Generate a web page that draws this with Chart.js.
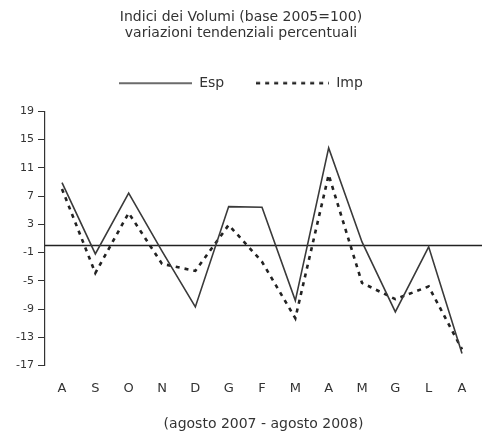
<!DOCTYPE html>
<html>
<head>
<meta charset="utf-8">
<script src="https://cdn.jsdelivr.net/npm/chart.js@4/dist/chart.umd.min.js"></script>
<style>
  html, body { margin: 0; padding: 0; background: #fff; }
  #wrap { width: 482px; height: 434px; }
</style>
</head>
<body>
<div id="wrap"><canvas id="c" width="482" height="434"></canvas></div>
<script>
// ---- data ----
const months = ['A', 'S', 'O', 'N', 'D', 'G', 'F', 'M', 'A', 'M', 'G', 'L', 'A'];
const espValues = [8.9, -1.2, 7.4, -0.8, -8.7, 5.5, 5.4, -7.8, 13.8, 0.5, -9.4, -0.2, -15.3];
const impValues = [8.0, -3.9, 4.6, -2.6, -3.6, 2.9, -2.3, -10.3, 10.0, -5.3, -7.6, -5.8, -14.7];
const yTickMin = -17;
const yTickMax = 19;
const yTickStep = 4;
const titleLines = ['Indici dei Volumi (base 2005=100)', 'variazioni tendenziali percentuali'];
const seriesNames = ['Esp', 'Imp'];
const xAxisTitle = '(agosto 2007 - agosto 2008)';

const FONT = "'DejaVu Sans', 'Liberation Sans', sans-serif";
const TEXT = '#333';
const LEGEND_EXTRA = 11;

const ESP_COLOR = '#3a3a3a';
const IMP_COLOR = '#222';
const ESP_WIDTH = 1.6;
const IMP_WIDTH = 2.6;
const IMP_DASH = [4, 5];

const toPoints = arr => arr.map((v, i) => ({ x: i, y: v }));

// small canvases used as legend symbols (a solid and a dashed line)
function legendLine(color, width, dash) {
  const c = document.createElement('canvas');
  c.width = 73; c.height = 4;
  const g = c.getContext('2d');
  g.strokeStyle = color;
  g.lineWidth = width;
  g.setLineDash(dash);
  g.beginPath();
  g.moveTo(0, 2);
  g.lineTo(73, 2);
  g.stroke();
  return c;
}

const zeroLine = {
  id: 'zeroLine',
  beforeDatasetsDraw(chart) {
    const { ctx, chartArea, scales } = chart;
    const y = scales.y.getPixelForValue(0);
    ctx.save();
    ctx.strokeStyle = '#222';
    ctx.lineWidth = 1.5;
    ctx.beginPath();
    ctx.moveTo(chartArea.left, y);
    ctx.lineTo(chartArea.right, y);
    ctx.stroke();
    ctx.restore();
  }
};

const legendSpacer = {
  id: 'legendSpacer',
  beforeInit(chart) {
    const orig = chart.legend.fit;
    chart.legend.fit = function () {
      orig.bind(chart.legend)();
      this.height += LEGEND_EXTRA;
    };
  }
};

new Chart(document.getElementById('c'), {
  type: 'line',
  data: {
    datasets: [
      {
        label: seriesNames[0],
        data: toPoints(espValues),
        borderColor: ESP_COLOR,
        backgroundColor: ESP_COLOR,
        borderWidth: ESP_WIDTH,
        pointRadius: 0,
        pointStyle: legendLine(ESP_COLOR, ESP_WIDTH, []),
        tension: 0,
        fill: false
      },
      {
        label: seriesNames[1],
        data: toPoints(impValues),
        borderColor: IMP_COLOR,
        backgroundColor: IMP_COLOR,
        borderWidth: IMP_WIDTH,
        borderDash: IMP_DASH,
        pointRadius: 0,
        pointStyle: legendLine(IMP_COLOR, IMP_WIDTH, IMP_DASH),
        tension: 0,
        fill: false
      }
    ]
  },
  options: {
    responsive: false,
    animation: false,
    layout: { padding: { left: 0, right: 0, top: 0, bottom: 0 } },
    plugins: {
      title: {
        display: true,
        text: titleLines,
        color: TEXT,
        font: { family: FONT, size: 14, weight: 'normal', lineHeight: 1.15 },
        padding: { top: 9, bottom: 3 }
      },
      legend: {
        display: true,
        labels: {
          color: TEXT,
          font: { family: FONT, size: 14 },
          usePointStyle: true,
          pointStyleWidth: 73,
          boxWidth: 73,
          padding: 32
        }
      },
      tooltip: { enabled: false }
    },
    scales: {
      x: {
        type: 'linear',
        min: -0.51,
        max: 12.6,
        afterBuildTicks(scale) {
          scale.ticks = months.map((m, i) => ({ value: i }));
        },
        ticks: {
          color: TEXT,
          font: { family: FONT, size: 13 },
          padding: 15,
          maxRotation: 0,
          autoSkip: false,
          callback: v => months[v] ?? ''
        },
        grid: { display: false, drawTicks: false },
        border: { display: false },
        title: {
          display: true,
          text: xAxisTitle,
          color: TEXT,
          font: { family: FONT, size: 14 },
          padding: { top: 5, bottom: 1 }
        }
      },
      y: {
        type: 'linear',
        min: yTickMin,
        max: yTickMax,
        afterFit(scale) { scale.width = 45; },
        ticks: {
          stepSize: yTickStep,
          color: TEXT,
          font: { family: FONT, size: 11 },
          padding: 4
        },
        grid: {
          display: true,
          drawOnChartArea: false,
          drawTicks: true,
          tickLength: 7,
          tickColor: '#333',
          tickWidth: 1
        },
        border: { display: true, color: '#333', width: 1.2 }
      }
    }
  },
  plugins: [zeroLine, legendSpacer]
});
</script>
</body>
</html>
